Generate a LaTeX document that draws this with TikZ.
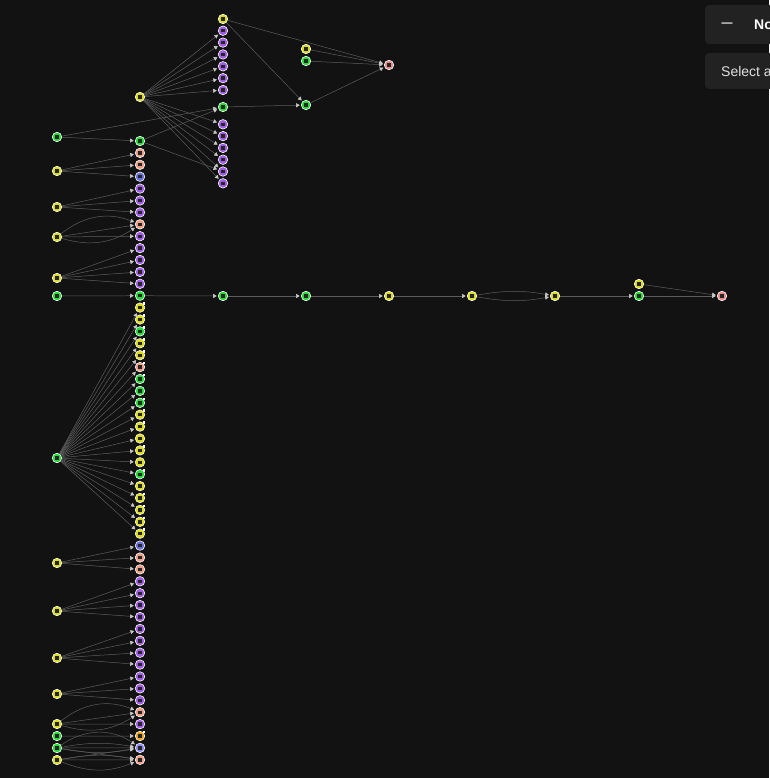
\documentclass[tikz,border=0pt]{standalone}
\usepackage{fontspec}
\usepackage{tikz}
\usetikzlibrary{arrows.meta}
\newfontfamily\uifont{Liberation Sans}
\definecolor{bgdark}{HTML}{121212}
\definecolor{panel}{HTML}{222222}
\definecolor{edgegray}{HTML}{5C5C5C}
\definecolor{tipgray}{HTML}{C8C8C8}
\definecolor{ye}{HTML}{DCDC1E}
\definecolor{gr}{HTML}{22DD33}
\definecolor{pu}{HTML}{A05CE6}
\definecolor{sa}{HTML}{EE9E86}
\definecolor{rd}{HTML}{E88A8A}
\definecolor{bl}{HTML}{6A6FDD}
\definecolor{lv}{HTML}{8C8CF0}
\definecolor{or}{HTML}{F0A21E}

\begin{document}
\begin{tikzpicture}[x=1pt,y=-1pt,
    nd/.style={circle,draw=white,line width=0.6pt,minimum size=9.5pt,inner sep=0pt,fill=#1,
      path picture={\fill[black!85] ([shift={(-1.7pt,-1.7pt)}]path picture bounding box.center) rectangle ++(3.4pt,3.4pt);}},
    ed/.style={draw=edgegray,line width=0.5pt,shorten >=1.2pt,
      -{Triangle[width=4pt,length=3.6pt,color=tipgray]}},
    badge/.style={fill=white,minimum size=2.6pt,inner sep=0pt}]
    \fill[bgdark] (0,0) rectangle (769,778);
    \useasboundingbox (0,0) rectangle (769,778);
    % panels
    \fill[panel,rounded corners=4pt] (705,5) rectangle (790,44);
    \fill[panel,rounded corners=4pt] (705,53) rectangle (790,89);
    \node[white,anchor=center] (dash) at (727,25) {\uifont\fontsize{11}{12}\selectfont\bfseries —};
    \node[white,anchor=west,inner sep=0pt] (ttl) at (754,25) {\uifont\fontsize{14}{16}\selectfont\bfseries No};
    \node[white!88!black,anchor=west,inner sep=0pt] (sel) at (721,71) {\uifont\fontsize{14}{16}\selectfont Select a};
    % nodes
    \foreach \y/\c [count=\i] in {137/gr,171/ye,207/ye,237/ye,278/ye,296/gr,458/gr,563/ye,611/ye,658/ye,694/ye,724/ye,736/gr,748/gr,760/ye}
      \node[nd=\c] (a\i) at (57,\y) {};
    \foreach \c [count=\i from 0] in {gr,sa,sa,bl,pu,pu,pu,sa,pu,pu,pu,pu,pu,gr,ye,ye,gr,ye,ye,sa,gr,gr,gr,ye,ye,ye,ye,ye,gr,ye,ye,ye,ye,ye,bl,sa,sa,pu,pu,pu,pu,pu,pu,pu,pu,pu,pu,pu,sa,pu,or,lv,sa}
      \node[nd=\c] (b\i) at (140,{141+\i*11.9}) {};
    \foreach \i in {14,15,16,17,18,19,20,22,23,24,26,28,30,31,32,33,50}
      \node[badge] (bb\i) at ([shift={(4pt,4pt)}]b\i.center) {};
    \node[nd=ye] (h) at (140,97) {};
    \foreach \i in {1,...,6} {
      \node[nd=pu] (cu\i) at (223,{18.9+\i*11.85}) {};
      \node[nd=pu] (cl\i) at (223,{112.5+\i*11.8}) {};
    }
    \node[nd=ye] (ct) at (223,19) {};
    \node[nd=gr] (cg) at (223,107) {};
    \node[nd=ye] (dy) at (306,49) {};
    \node[nd=gr] (dt) at (306,61) {};
    \node[nd=gr] (dg) at (306,105) {};
    \node[nd=rd] (e) at (389,65) {};
    \foreach \x/\c [count=\i] in {223/gr,306/gr,389/ye,472/ye,555/ye,639/gr,722/rd}
      \node[nd=\c] (m\i) at (\x,296) {};
    \node[nd=ye] (my) at (639,284) {};
    % edges
    \foreach \s/\t in {a1/b0,a1/cg,a2/b1,a2/b2,a2/b3,a3/b4,a3/b5,a3/b6,a4/b7,a4/b8,a5/b9,a5/b10,a5/b11,a5/b12,a6/b13,
        a8/b34,a8/b35,a8/b36,a9/b37,a9/b38,a9/b39,a9/b40,a10/b41,a10/b42,a10/b43,a10/b44,a11/b45,a11/b46,a11/b47,
        a12/b48,a12/b49,a13/b50,a14/b51,a14/b52,a15/b51,a15/b52,b0/cl5,b0/cg,
        ct/e,ct/dg,cg/dg,dy/e,dt/e,dg/e,b13/m1,m1/m2,m2/m3,m3/m4,m5/m6,m6/m7,my/m7}
      \draw[ed] (\s) -- (\t);
    \foreach \i in {14,...,33}
      \draw[ed] (a7) -- (b\i);
    \foreach \i in {1,...,6} {
      \draw[ed] (h) -- (cu\i);
      \draw[ed] (h) -- (cl\i);
    }
    \draw[ed] (a4) to[bend left=30] (b7);
    \draw[ed] (a4) to[bend right=25] (b7);
    \draw[ed] (a12) to[bend left=30] (b48);
    \draw[ed] (a12) to[bend right=25] (b48);
    \draw[ed] (a14) to[bend left=35] (b51);
    \draw[ed] (a14) to[bend left=10] (b51);
    \draw[ed] (a14) to[bend right=10] (b51);
    \draw[ed] (a15) to[bend left=10] (b52);
    \draw[ed] (a15) to[bend right=22] (b52);
    \draw[ed] (m4) to[bend left=10] (m5);
    \draw[ed] (m4) to[bend right=10] (m5);
  \end{tikzpicture}
\end{document}
